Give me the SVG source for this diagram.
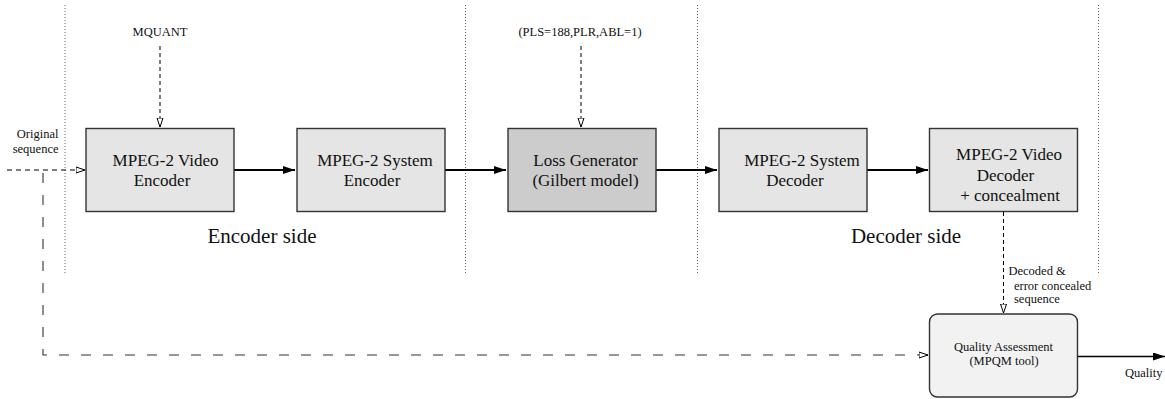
<svg xmlns="http://www.w3.org/2000/svg" width="1165" height="399" viewBox="0 0 1165 399" font-family="'Liberation Serif', 'DejaVu Serif', serif">
<defs>
<marker id="fill" viewBox="0 0 12 8" refX="12" refY="4" markerWidth="12" markerHeight="8" markerUnits="userSpaceOnUse" orient="auto">
<path d="M0,0 L12,4 L0,8 Z" fill="#000"/>
</marker>
<marker id="open" viewBox="0 0 10 8" refX="9.5" refY="4" markerWidth="10" markerHeight="8" markerUnits="userSpaceOnUse" orient="auto">
<path d="M0.5,1 L9.5,4 L0.5,7 Z" fill="#fff" stroke="#000" stroke-width="1"/>
</marker>
</defs>
<style>
text{font-family:'Liberation Serif','DejaVu Serif',serif;fill:#111}
.box{fill:#e5e5e5;stroke:#333;stroke-width:1.4}
.dark{fill:#cccccc}
.qa{fill:#f2f2f2;stroke:#333;stroke-width:1.4}
.b{font-size:17px;text-anchor:middle}
.s{font-size:12.5px}
.side{font-size:21px;text-anchor:middle}
.dot{stroke:#666;stroke-width:1;stroke-dasharray:1 2;fill:none}
.flow{stroke:#000;stroke-width:2.2;fill:none;marker-end:url(#fill)}
.thin{stroke:#000;stroke-width:1.3;fill:none;marker-end:url(#fill)}
.dsh{stroke:#000;stroke-width:1;stroke-dasharray:4 3;fill:none;marker-end:url(#open)}
.ldsh{stroke:#333;stroke-width:1.1;stroke-dasharray:10 12;fill:none}
</style>
<g id="separators">
<line class="dot" x1="65" y1="5" x2="65" y2="273"/>
<line class="dot" x1="465.5" y1="5" x2="465.5" y2="273"/>
<line class="dot" x1="697.5" y1="5" x2="697.5" y2="273"/>
<line class="dot" x1="1098.5" y1="5" x2="1098.5" y2="273"/>
</g>
<g id="connectors">
<path class="flow" d="M234,170 H295"/>
<path class="flow" d="M445,170 H506"/>
<path class="flow" d="M656,170 H717"/>
<path class="flow" d="M867,170 H928"/>
<path class="dsh" d="M160,46 V127"/>
<path class="dsh" d="M581,46 V127"/>
<path class="dsh" style="stroke-dasharray:5 4" d="M7,170 H85"/>
<path class="ldsh" d="M43,173 V355 H918"/>
<path class="dsh" style="stroke-dasharray:10 12" d="M918,355 H928"/>
<path class="dsh" d="M1003.5,212 V313"/>
<path class="thin" d="M1078,356.5 H1165"/>
</g>
<g id="labels">
<text class="s" x="160" y="36" text-anchor="middle">MQUANT</text>
<text class="s" x="580" y="36" text-anchor="middle">(PLS=188,PLR,ABL=1)</text>
<text class="s" x="58.5" y="138" text-anchor="end">Original</text>
<text class="s" x="58.5" y="153" text-anchor="end">sequence</text>
<text class="side" x="262" y="243">Encoder side</text>
<text class="side" x="906" y="243">Decoder side</text>
<text class="s" x="1008.5" y="275">Decoded &amp;</text>
<text class="s" x="1014" y="289.5">error concealed</text>
<text class="s" x="1014" y="303">sequence</text>
<text class="s" x="1125" y="377">Quality</text>
</g>
<g id="video-encoder">
<rect class="box" x="86" y="128.5" width="148" height="83"/>
<text class="b" x="165.5" y="166">MPEG-2 Video</text>
<text class="b" x="162" y="186">Encoder</text>
</g>
<g id="system-encoder">
<rect class="box" x="297" y="128.5" width="148" height="83"/>
<text class="b" x="375" y="166">MPEG-2 System</text>
<text class="b" x="372" y="186">Encoder</text>
</g>
<g id="loss-generator">
<rect class="box dark" x="508" y="128.5" width="148" height="83"/>
<text class="b" x="585.5" y="166">Loss Generator</text>
<text class="b" x="585.5" y="186">(Gilbert model)</text>
</g>
<g id="system-decoder">
<rect class="box" x="719" y="128.5" width="148" height="83"/>
<text class="b" x="802" y="166">MPEG-2 System</text>
<text class="b" x="795" y="186">Decoder</text>
</g>
<g id="video-decoder">
<rect class="box" x="929.5" y="128.5" width="148" height="83"/>
<text class="b" x="1009" y="160">MPEG-2 Video</text>
<text class="b" x="1005.5" y="181">Decoder</text>
<text class="b" x="1010" y="201">+ concealment</text>
</g>
<g id="quality-assessment">
<rect class="qa" x="929.5" y="314" width="148" height="83" rx="8"/>
<text class="s" x="1003.5" y="351" text-anchor="middle">Quality Assessment</text>
<text class="s" x="1004" y="365" text-anchor="middle">(MPQM tool)</text>
</g>
</svg>
